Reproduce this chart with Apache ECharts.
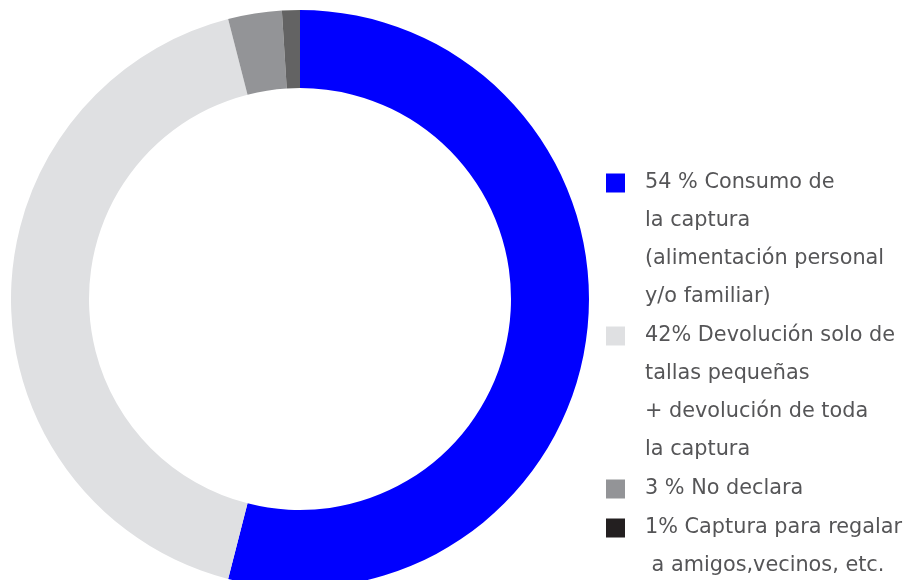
<!DOCTYPE html>
<html>
<head>
<meta charset="utf-8">
<script src="https://cdn.jsdelivr.net/npm/echarts@6/dist/echarts.min.js"></script>
<style>
  html, body { margin: 0; padding: 0; background: #fff; }
  #chart { width: 917px; height: 580px; }
</style>
</head>
<body>
<div id="chart"></div>
<script>
// datos
const labels = [
  "54 % Consumo de\nla captura\n(alimentación personal\ny/o familiar)",
  "42% Devolución solo de\ntallas pequeñas\n+ devolución de toda\nla captura",
  "3 % No declara",
  "1% Captura para regalar\n a amigos,vecinos, etc."
]
const values = [54, 42, 3, 1]
const sliceColors = ["#0000ff", "#dfe0e2", "#939497", "#636363"]
const legendColors = ["#0000ff", "#dfe0e2", "#939497", "#231f20"]
const legendCenters = [183, 336, 489, 528] // centro del icono (px)

const chart = echarts.init(document.getElementById("chart"))

const LH = 38
// cada leyenda va sola; se anteponen lineas vacias para que el icono quede en la primera linea
const legends = labels.map((name, i) => {
  const n = name.split("\n").length
  return {
    orient: "vertical",
    left: 606,
    top: legendCenters[i] - (2 * n - 1) * LH / 2,
    padding: 0,
    itemWidth: 19,
    itemHeight: 19,
    selectedMode: false,
    icon: "rect",
    data: [{ name, itemStyle: { color: legendColors[i] } }],
    formatter: (t) => " \n".repeat(n - 1) + t,
    textStyle: {
      fontFamily: "DejaVu Sans",
      fontSize: 20.8,
      color: "#555557",
      lineHeight: LH,
      padding: [0, 0, 0, 15]
    }
  }
})

chart.setOption({
  animation: false,
  backgroundColor: "#fff",
  legend: legends,
  series: [{
    type: "pie",
    center: [300, 299],
    radius: [211, 289],
    startAngle: 90,
    clockwise: true,
    silent: true,
    label: { show: false },
    labelLine: { show: false },
    data: labels.map((name, i) => ({
      name,
      value: values[i],
      itemStyle: { color: sliceColors[i] }
    }))
  }]
})
</script>
</body>
</html>
